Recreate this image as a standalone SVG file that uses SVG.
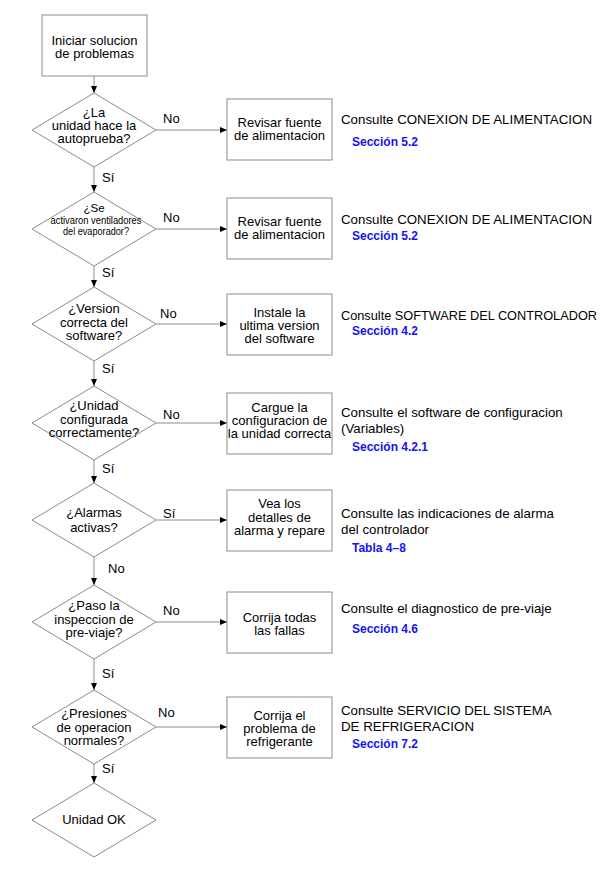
<svg xmlns="http://www.w3.org/2000/svg" width="616" height="881" viewBox="0 0 616 881">
<style>
.shape{fill:#fff;stroke:#8c8c8c;stroke-width:1}
.conn{stroke:#8c8c8c;stroke-width:1;fill:none}
text{font-family:"Liberation Sans",Arial,sans-serif;fill:#000}
.t{font-size:13px;text-anchor:middle}
.s{font-size:11.5px;text-anchor:middle}
.lab{font-size:13px}
.ref{font-size:13.3px}
.sec{font-size:12px;font-weight:bold;fill:#1414f0}
</style>
<defs>
<marker id="ah" markerUnits="userSpaceOnUse" markerWidth="7" markerHeight="6" refX="7" refY="3" orient="auto">
<path d="M0,0 L7,3 L0,6 z" fill="#000"/>
</marker>
</defs>
<rect width="616" height="881" fill="#fff"/>
<g id="connectors">
<line class="conn" x1="94" y1="76" x2="94" y2="93" marker-end="url(#ah)"/>
<line class="conn" x1="156" y1="130" x2="227" y2="130" marker-end="url(#ah)"/>
<line class="conn" x1="94" y1="167" x2="94" y2="192" marker-end="url(#ah)"/>
<line class="conn" x1="156" y1="229" x2="227" y2="229" marker-end="url(#ah)"/>
<line class="conn" x1="94" y1="266" x2="94" y2="287" marker-end="url(#ah)"/>
<line class="conn" x1="156" y1="324" x2="227" y2="324" marker-end="url(#ah)"/>
<line class="conn" x1="94" y1="361" x2="94" y2="386" marker-end="url(#ah)"/>
<line class="conn" x1="156" y1="423" x2="227" y2="423" marker-end="url(#ah)"/>
<line class="conn" x1="94" y1="460" x2="94" y2="483" marker-end="url(#ah)"/>
<line class="conn" x1="156" y1="520" x2="227" y2="520" marker-end="url(#ah)"/>
<line class="conn" x1="94" y1="557" x2="94" y2="585" marker-end="url(#ah)"/>
<line class="conn" x1="156" y1="622" x2="227" y2="622" marker-end="url(#ah)"/>
<line class="conn" x1="94" y1="659" x2="94" y2="690" marker-end="url(#ah)"/>
<line class="conn" x1="156" y1="727" x2="227" y2="727" marker-end="url(#ah)"/>
<line class="conn" x1="94" y1="764" x2="94" y2="783" marker-end="url(#ah)"/>
<text class="lab" x="163" y="123">No</text>
<text class="lab" x="102" y="182">Sí</text>
<text class="lab" x="163" y="222">No</text>
<text class="lab" x="102" y="277">Sí</text>
<text class="lab" x="160" y="318">No</text>
<text class="lab" x="102" y="373">Sí</text>
<text class="lab" x="163" y="419">No</text>
<text class="lab" x="102" y="473">Sí</text>
<text class="lab" x="163" y="518">Sí</text>
<text class="lab" x="108" y="573">No</text>
<text class="lab" x="163" y="615">No</text>
<text class="lab" x="102" y="678">Sí</text>
<text class="lab" x="158" y="717">No</text>
<text class="lab" x="102" y="773">Sí</text>
</g>
<g id="start">
<rect class="shape" x="42" y="15" width="105" height="61"/>
<text class="t" x="94.5" y="45">Iniciar solucion</text>
<text class="t" x="94.5" y="58">de problemas</text>
</g>
<g id="d1">
<polygon class="shape" points="94,93 156,130 94,167 32,130"/>
<text class="t" x="94" y="117">¿La</text>
<text class="t" x="94" y="130">unidad hace la</text>
<text class="t" x="94" y="143">autoprueba?</text>
</g>
<g id="b1">
<rect class="shape" x="227" y="99" width="105" height="61"/>
<text class="t" x="279.5" y="127">Revisar fuente</text>
<text class="t" x="279.5" y="140">de alimentacion</text>
</g>
<g id="r1">
<text class="ref" x="341" y="124">Consulte CONEXION DE ALIMENTACION</text>
<text class="sec" x="352" y="146">Sección 5.2</text>
</g>
<g id="d2">
<polygon class="shape" points="94,192 156,229 94,266 32,229"/>
<text class="s" x="94" y="212">¿Se</text>
<text class="s" x="96" y="223.5" textLength="91" lengthAdjust="spacingAndGlyphs">activaron ventiladores</text>
<text class="s" x="96" y="235" textLength="66" lengthAdjust="spacingAndGlyphs">del evaporador?</text>
</g>
<g id="b2">
<rect class="shape" x="227" y="198" width="105" height="61"/>
<text class="t" x="279.5" y="226">Revisar fuente</text>
<text class="t" x="279.5" y="239">de alimentacion</text>
</g>
<g id="r2">
<text class="ref" x="341" y="224">Consulte CONEXION DE ALIMENTACION</text>
<text class="sec" x="352" y="240">Sección 5.2</text>
</g>
<g id="d3">
<polygon class="shape" points="94,287 156,324 94,361 32,324"/>
<text class="t" x="94" y="313">¿Version</text>
<text class="t" x="94" y="326.5">correcta del</text>
<text class="t" x="94" y="340">software?</text>
</g>
<g id="b3">
<rect class="shape" x="227" y="294" width="105" height="61"/>
<text class="t" x="279.5" y="317">Instale la</text>
<text class="t" x="279.5" y="330">ultima version</text>
<text class="t" x="279.5" y="343">del software</text>
</g>
<g id="r3">
<text class="ref" x="341" y="320" textLength="256" lengthAdjust="spacingAndGlyphs">Consulte SOFTWARE DEL CONTROLADOR</text>
<text class="sec" x="352" y="335">Sección 4.2</text>
</g>
<g id="d4">
<polygon class="shape" points="94,386 156,423 94,460 32,423"/>
<text class="t" x="94" y="410">¿Unidad</text>
<text class="t" x="94" y="423.5">configurada</text>
<text class="t" x="94" y="437">correctamente?</text>
</g>
<g id="b4">
<rect class="shape" x="227" y="393" width="105" height="61"/>
<text class="t" x="279.5" y="412">Cargue la</text>
<text class="t" x="279.5" y="425">configuracion de</text>
<text class="t" x="279.5" y="438">la unidad correcta</text>
</g>
<g id="r4">
<text class="ref" x="341" y="417">Consulte el software de configuracion</text>
<text class="ref" x="341" y="433">(Variables)</text>
<text class="sec" x="352" y="451">Sección 4.2.1</text>
</g>
<g id="d5">
<polygon class="shape" points="94,483 156,520 94,557 32,520"/>
<text class="t" x="94" y="517">¿Alarmas</text>
<text class="t" x="94" y="532">activas?</text>
</g>
<g id="b5">
<rect class="shape" x="227" y="490" width="105" height="61"/>
<text class="t" x="279.5" y="508">Vea los</text>
<text class="t" x="279.5" y="521.5">detalles de</text>
<text class="t" x="279.5" y="535">alarma y repare</text>
</g>
<g id="r5">
<text class="ref" x="341" y="518">Consulte las indicaciones de alarma</text>
<text class="ref" x="341" y="534">del controlador</text>
<text class="sec" x="352" y="552">Tabla 4–8</text>
</g>
<g id="d6">
<polygon class="shape" points="94,585 156,622 94,659 32,622"/>
<text class="t" x="94" y="610">¿Paso la</text>
<text class="t" x="94" y="623.5">inspeccion de</text>
<text class="t" x="94" y="637">pre-viaje?</text>
</g>
<g id="b6">
<rect class="shape" x="227" y="592" width="105" height="61"/>
<text class="t" x="279.5" y="622">Corrija todas</text>
<text class="t" x="279.5" y="635">las fallas</text>
</g>
<g id="r6">
<text class="ref" x="341" y="613">Consulte el diagnostico de pre-viaje</text>
<text class="sec" x="352" y="633">Sección 4.6</text>
</g>
<g id="d7">
<polygon class="shape" points="94,690 156,727 94,764 32,727"/>
<text class="t" x="94" y="718">¿Presiones</text>
<text class="t" x="94" y="731.5">de operacion</text>
<text class="t" x="94" y="745">normales?</text>
</g>
<g id="b7">
<rect class="shape" x="227" y="697" width="105" height="61"/>
<text class="t" x="279.5" y="720">Corrija el</text>
<text class="t" x="279.5" y="733">problema de</text>
<text class="t" x="279.5" y="746">refrigerante</text>
</g>
<g id="r7">
<text class="ref" x="341" y="715">Consulte SERVICIO DEL SISTEMA</text>
<text class="ref" x="341" y="731">DE REFRIGERACION</text>
<text class="sec" x="352" y="748">Sección 7.2</text>
</g>
<g id="d8">
<polygon class="shape" points="94,783 156,820 94,857 32,820"/>
<text class="t" x="94" y="824">Unidad OK</text>
</g>
</svg>
